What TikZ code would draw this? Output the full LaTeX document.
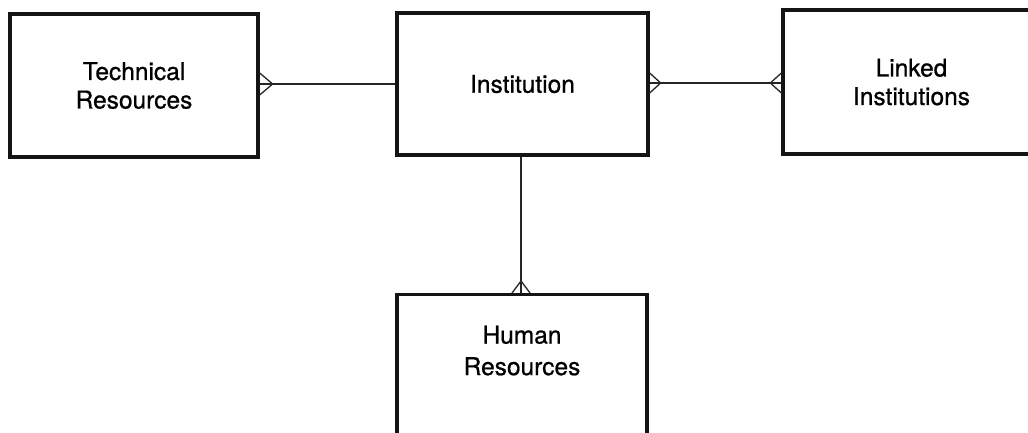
\documentclass[tikz,border=0pt]{standalone}
\usepackage{fontspec}
\setmainfont{TeX Gyre Heros}
\newfontfamily\heavyfont[FakeBold=0.8]{TeX Gyre Heros}
\usetikzlibrary{calc}
\begin{document}
\begin{tikzpicture}[x=1pt,y=-1pt,
  entity/.style={draw=black!92,line width=3.3pt,rectangle,inner sep=0pt,align=center,
    font=\heavyfont\fontsize{24.5}{28.5}\selectfont},
  rel/.style={draw=black!85,line width=1.4pt},
  crow/.style={draw=black!85,line width=1.3pt,line join=miter}]
\useasboundingbox (0,0) rectangle (1028,433);
\clip (0,0) rectangle (1028,433);
\fill[white] (0,0) rectangle (1028,433);
\node[entity,minimum width=248pt,minimum height=143pt] (tr) at (134,85.5) {Technical\\Resources};
\node[entity,minimum width=251pt,minimum height=142pt] (inst) at (522.5,84) {Institution};
\node[entity,minimum width=257pt,minimum height=144pt] (li) at (911.5,82) {Linked\\Institutions};
\node[entity,minimum width=250pt,minimum height=144pt,anchor=north] (hr) at (522,293) {Human\\[3pt]Resources\\[4pt]};
% connectors
\coordinate (a1) at (tr.east |- 0,84);
\coordinate (b1) at (inst.west |- 0,84);
\draw[rel] (a1) -- (b1);
\draw[crow] ($(a1)+(0,-11)$) -- ($(a1)+(13,0)$) -- ($(a1)+(0,11)$);
\coordinate (a2) at (inst.east |- 0,83);
\coordinate (b2) at (li.west |- 0,83);
\draw[rel] (a2) -- (b2);
\draw[crow] ($(a2)+(0,-10)$) -- ($(a2)+(11,0)$) -- ($(a2)+(0,10)$);
\draw[crow] ($(b2)+(0,-10)$) -- ($(b2)+(-11,0)$) -- ($(b2)+(0,10)$);
\coordinate (a3) at (inst.south -| 521,0);
\coordinate (b3) at (hr.north -| 521,0);
\draw[rel] (a3) -- (b3);
\draw[crow] ($(b3)+(-9,0)$) -- ($(b3)+(0,-12)$) -- ($(b3)+(9,0)$);
\end{tikzpicture}
\end{document}
